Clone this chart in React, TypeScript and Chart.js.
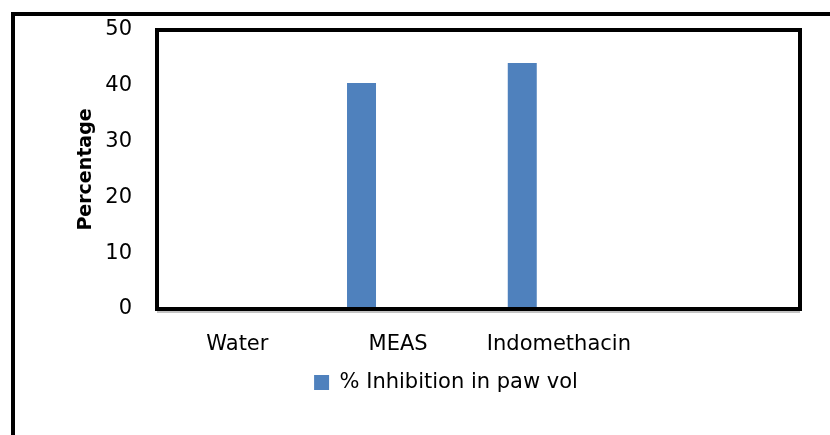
import React, { useEffect, useRef } from "react";
import { Chart, registerables } from "chart.js";

Chart.register(...registerables);

const categories = ["Water", "MEAS", "Indomethacin", ""];
const inhibitionValues = [0, 40.5, 44.1, null];
const emptySeries = [null, null, null, null];
const seriesLabel = "% Inhibition in paw vol";
const yTicks = [0, 10, 20, 30, 40, 50];

const FONT = "'DejaVu Sans', sans-serif";

const framePlugin = {
  id: "frames",
  afterDatasetsDraw(chart: any) {
    const { ctx, chartArea } = chart;
    ctx.save();
    // outer frame
    ctx.strokeStyle = "#000";
    ctx.lineWidth = 4;
    ctx.beginPath();
    ctx.moveTo(13, 440);
    ctx.lineTo(13, 14);
    ctx.lineTo(840, 14);
    ctx.stroke();
    // grey axis line under plot
    ctx.strokeStyle = "#c3c3c3";
    ctx.lineWidth = 2;
    ctx.beginPath();
    ctx.moveTo(chartArea.left, chartArea.bottom + 3);
    ctx.lineTo(chartArea.right, chartArea.bottom + 3);
    ctx.stroke();
    // plot frame
    ctx.strokeStyle = "#000";
    ctx.lineWidth = 4;
    ctx.strokeRect(
      chartArea.left,
      chartArea.top,
      chartArea.right - chartArea.left,
      chartArea.bottom - chartArea.top
    );
    ctx.restore();
  },
};

function zeroPad(scale: any) {
  scale.paddingTop = 0;
  scale.paddingBottom = 0;
  scale.paddingLeft = 0;
  scale.paddingRight = 0;
}

export default function App() {
  const ref = useRef<HTMLCanvasElement>(null);
  useEffect(() => {
    if (!ref.current) return;
    const chart = new Chart(ref.current, {
      type: "bar",
      data: {
        labels: categories,
        datasets: [
          {
            label: seriesLabel,
            data: inhibitionValues as any,
            backgroundColor: "#4F81BD",
            borderWidth: 0,
            barPercentage: 0.396,
            categoryPercentage: 0.911,
          },
          {
            label: "",
            data: emptySeries as any,
            backgroundColor: "#C0504D",
            borderWidth: 0,
            barPercentage: 0.396,
            categoryPercentage: 0.911,
          },
        ],
      },
      options: {
        animation: false,
        responsive: false,
        maintainAspectRatio: false,
        devicePixelRatio: 1,
        layout: { autoPadding: false, padding: { left: 62, right: 0, top: 30, bottom: 32 } },
        plugins: {
          tooltip: { enabled: false },
          legend: {
            position: "bottom",
            labels: {
              boxWidth: 15,
              boxHeight: 15,
              padding: 13,
              color: "#000",
              font: { family: FONT, size: 21 },
              filter: (item: any) => item.datasetIndex === 0,
            },
          },
        },
        scales: {
          x: {
            grid: { display: false, drawTicks: false },
            border: { display: false },
            ticks: {
              color: "#000",
              padding: 23,
              font: { family: FONT, size: 21 },
              maxRotation: 0,
              autoSkip: false,
            },
            afterFit(scale: any) {
              scale.height = 50;
              zeroPad(scale);
            },
          },
          y: {
            min: 0,
            max: 50,
            afterBuildTicks(scale: any) {
              scale.ticks = yTicks.map((v) => ({ value: v }));
            },
            grid: { display: false, drawTicks: false },
            border: { display: false },
            ticks: {
              color: "#000",
              padding: 25,
              font: { family: FONT, size: 21 },
            },
            title: {
              display: true,
              text: "Percentage",
              color: "#000",
              padding: { top: 13, bottom: 0 },
              font: { family: FONT, size: 19, weight: "bold" },
            },
            afterFit(scale: any) {
              scale.width = 95;
              zeroPad(scale);
            },
          },
          yR: {
            position: "right",
            display: true,
            grid: { display: false, drawTicks: false },
            border: { display: false },
            ticks: { display: false },
            afterFit(scale: any) {
              scale.width = 30;
              zeroPad(scale);
            },
          },
        },
      },
      plugins: [framePlugin],
    } as any);
    return () => chart.destroy();
  }, []);
  return (
    <div style={{ position: "fixed", left: 0, top: 0, width: 830, height: 435, background: "#fff" }}>
      <canvas ref={ref} width={830} height={435} style={{ width: 830, height: 435, display: "block" }} />
    </div>
  );
}
